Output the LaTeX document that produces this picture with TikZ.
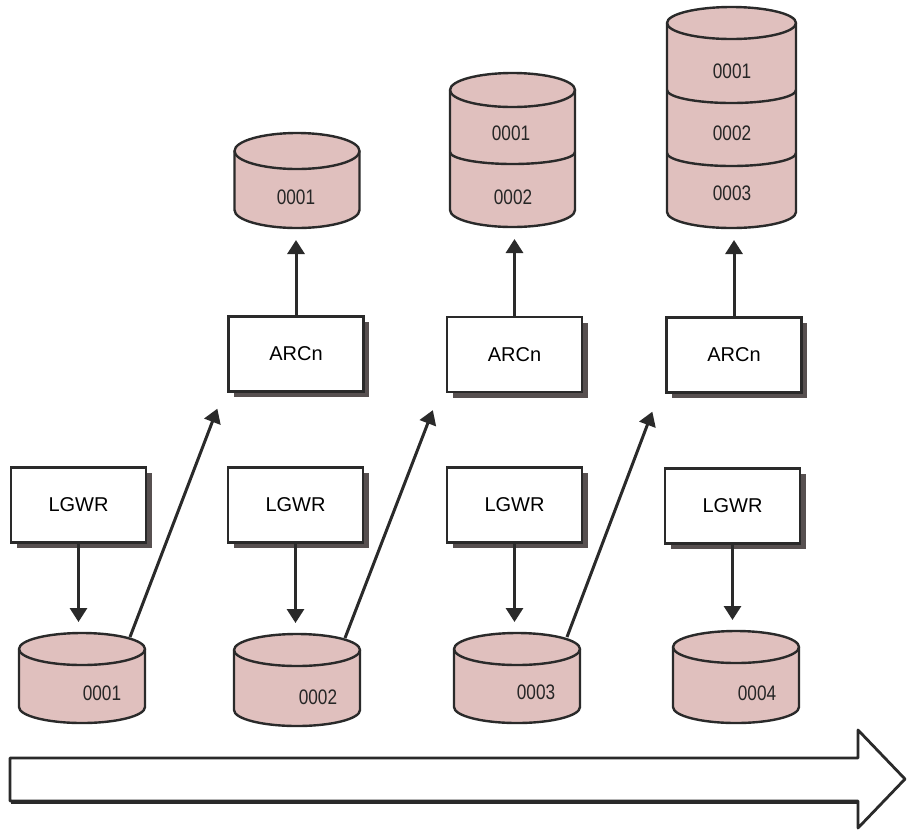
\documentclass[tikz,border=0pt]{standalone}
\usepackage{fontspec}
\setmainfont{Liberation Sans}
\usetikzlibrary{arrows.meta,shadows}

\definecolor{ink}{HTML}{2A2A2A}
\definecolor{drumpink}{RGB}{224,192,190}
\definecolor{shade}{HTML}{575050}

\tikzset{
  proc/.style={draw=ink, line width=2.3pt, fill=white, minimum width=135pt,
    minimum height=75pt, inner sep=0pt, font=\fontsize{20}{24}\selectfont,
    drop shadow={shadow xshift=5.5pt, shadow yshift=-5.5pt, fill=shade, opacity=1}},
  drumbox/.style={inner sep=0pt, outer sep=0pt},
  drum/.style={fill=drumpink, draw=ink, line width=2.4pt},
  drumedge/.style={draw=ink, line width=2.4pt},
  flow/.style={draw=ink, line width=3pt, -{Triangle[width=17pt,length=14pt]}},
  tag/.style={font=\fontsize{21}{24}\selectfont, inner sep=0pt, text=black!85},
}

% drum outline around an invisible node: #1 node, #2 x radius, #3 y radius
\newcommand\drum[3]{%
  \filldraw[drum] ([yshift=-#3]#1.north west)
    arc[start angle=180, end angle=0, x radius=#2, y radius=#3]
    -- ([yshift=#3]#1.south east)
    arc[start angle=0, end angle=-180, x radius=#2, y radius=#3] -- cycle;
  \draw[drumedge] ([yshift=-#3]#1.north west)
    arc[start angle=180, end angle=360, x radius=#2, y radius=#3];
}
% band line inside a drum: #1 node, #2 offset from top, #3 x radius, #4 y radius
\newcommand\drumband[4]{%
  \draw[drumedge] ([yshift=-#2]#1.north west)
    arc[start angle=180, end angle=360, x radius=#3, y radius=#4];
}
\newcommand\num[1]{\scalebox{0.82}[1]{#1}}

\begin{document}
\begin{tikzpicture}[x=1pt, y=1pt]
\useasboundingbox (0,0) rectangle (907,-831);

% online redo log files
\node[drumbox, minimum width=126pt, minimum height=90pt] (c1) at (82,-678) {};
\node[drumbox, minimum width=126pt, minimum height=92pt] (c2) at (297,-680) {};
\node[drumbox, minimum width=126pt, minimum height=90pt] (c3) at (517,-678) {};
\node[drumbox, minimum width=126pt, minimum height=92pt] (c4) at (736,-677) {};
\drum{c1}{63pt}{16pt}
\drum{c2}{63pt}{16pt}
\drum{c3}{63pt}{16pt}
\drum{c4}{63pt}{16pt}
\node[tag] (n1) at (102,-693) {\num{0001}};
\node[tag] (n2) at (318,-697) {\num{0002}};
\node[tag] (n3) at (536,-692) {\num{0003}};
\node[tag] (n4) at (757,-693) {\num{0004}};

% archived logs
\node[drumbox, minimum width=125pt, minimum height=95pt] (t1) at (297,-180.5) {};
\node[drumbox, minimum width=125pt, minimum height=154pt] (t2) at (512.5,-150) {};
\node[drumbox, minimum width=129pt, minimum height=221pt] (t3) at (731.5,-117.5) {};
\drum{t1}{62.5pt}{18pt}
\drum{t2}{62.5pt}{17pt}
\drumband{t2}{79pt}{62.5pt}{12pt}
\drum{t3}{64.5pt}{16pt}
\drumband{t3}{83pt}{64.5pt}{13pt}
\drumband{t3}{146pt}{64.5pt}{13pt}
\node[tag] (a11) at (296,-197) {\num{0001}};
\node[tag] (a21) at (511,-133) {\num{0001}};
\node[tag] (a22) at (513,-197) {\num{0002}};
\node[tag] (a31) at (732,-71) {\num{0001}};
\node[tag] (a32) at (732,-133) {\num{0002}};
\node[tag] (a33) at (732,-193) {\num{0003}};

% background processes
\node[proc] (lg1) at (78.5,-505) {LGWR};
\node[proc] (lg2) at (295.5,-505) {LGWR};
\node[proc] (lg3) at (514.5,-505) {LGWR};
\node[proc] (lg4) at (732.5,-506) {LGWR};
\node[proc] (ar1) at (296,-354) {ARCn};
\node[proc] (ar2) at (514.5,-354.5) {ARCn};
\node[proc] (ar3) at (734,-355) {ARCn};

% LGWR writes the current log
\foreach \i in {1,...,4}
  \draw[flow, shorten >=11pt] (lg\i.south) -- (lg\i.south |- c\i.north);

% ARCn copies the filled log
\foreach \i in {1,2,3}
  \draw[flow, shorten >=12pt] (ar\i.north) -- (ar\i.north |- t\i.south);

% log switch hands the filled log to ARCn
\draw[flow] ([xshift=-15pt, yshift=-4pt]c1.north east) -- ([xshift=-10pt, yshift=-16pt]ar1.south west);
\draw[flow] ([xshift=-15pt, yshift=-4pt]c2.north east) -- ([xshift=-13pt, yshift=-17pt]ar2.south west);
\draw[flow] ([xshift=-13pt, yshift=-4pt]c3.north east) -- ([xshift=-13pt, yshift=-18pt]ar3.south west);

% time axis
\draw[ink, line width=2.8pt, fill=white, line join=round]
  (10,-758) -- (858,-758) -- (858,-730) -- (905,-779) -- (858,-828)
  -- (858,-801) -- (10,-801) -- cycle;
\draw[ink, line width=2.6pt] (11,-803) -- (857,-803);
\end{tikzpicture}
\end{document}
